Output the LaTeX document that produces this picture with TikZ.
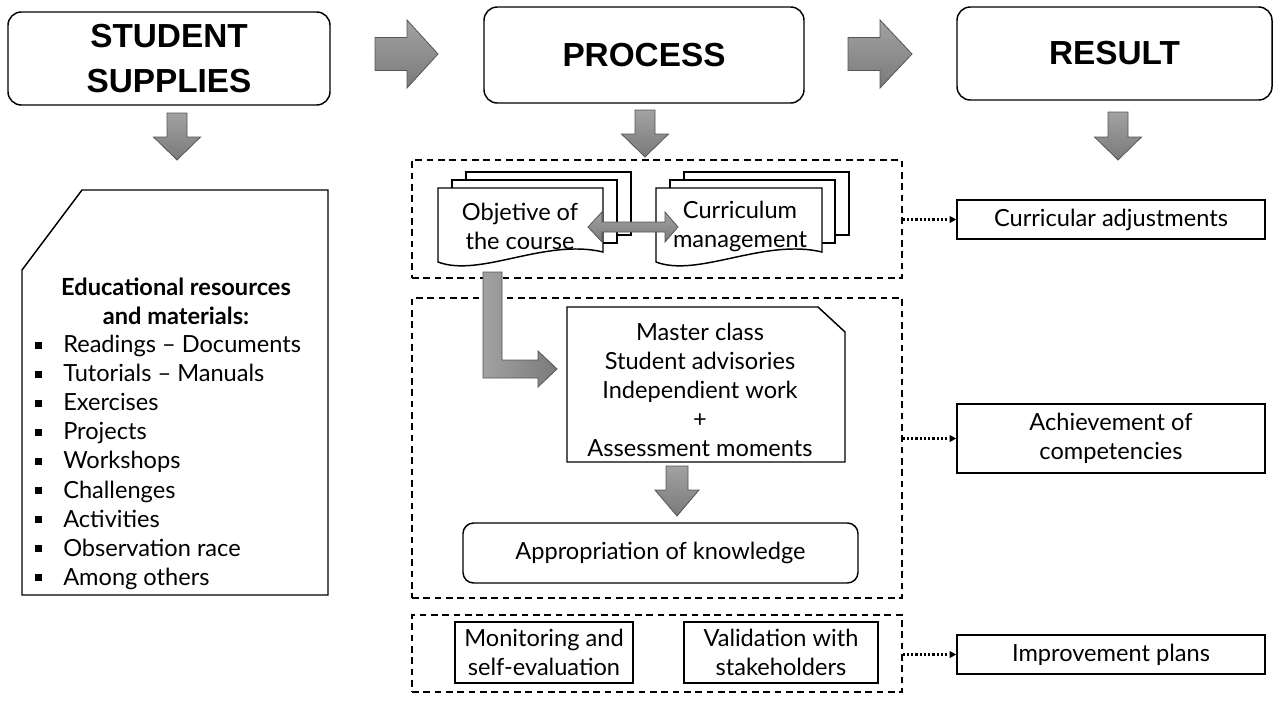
\documentclass[tikz,border=0pt]{standalone}
\usepackage{fontspec}
\setmainfont{Lato}
\newfontfamily\headfont{Liberation Sans}
\usetikzlibrary{arrows.meta}
\definecolor{arrtop}{HTML}{A2A2A2}
\definecolor{arrbot}{HTML}{7A7A7A}
\definecolor{arrline}{HTML}{555555}
\newcommand\bodyfont{\fontsize{17.7}{21.8}\selectfont}
\newcommand\rightblock[6]{% xleft, xhead, xtip, yc, shaft half, head half
  \draw[blockarrow] (#1,{#4-#5}) -- (#2,{#4-#5}) -- (#2,{#4-#6}) -- (#3,#4) -- (#2,{#4+#6}) -- (#2,{#4+#5}) -- (#1,{#4+#5}) -- cycle;}
\newcommand\downblock[6]{% ytop, yhead, ytip, xc, shaft half, head half
  \draw[blockarrow] ({#4-#5},#1) -- ({#4-#5},#2) -- ({#4-#6},#2) -- (#4,#3) -- ({#4+#6},#2) -- ({#4+#5},#2) -- ({#4+#5},#1) -- cycle;}
\tikzset{
  blockarrow/.style={draw=arrline, line width=0.6pt, top color=arrtop, bottom color=arrbot, line join=miter},
  headbox/.style={draw, line width=1.1pt, rounded corners=10pt, align=center, inner sep=0pt,
    font=\headfont\bfseries\fontsize{25}{33.75}\selectfont},
  plainbox/.style={draw, line width=1.1pt, align=center, inner sep=0pt, font=\bodyfont},
  dashbox/.style={draw, line width=0.9pt, dash pattern=on 5pt off 3.5pt, inner sep=0pt},
  dotarrow/.style={line width=1.6pt, dash pattern=on 1.6pt off 1.6pt, -{Triangle[length=5pt,width=5pt]}},
  txt/.style={font=\bodyfont, align=center, inner sep=0pt},
  item/.style={font=\bodyfont, anchor=base west, inner sep=0pt},
}
\begin{document}
\begin{tikzpicture}[x=0.75pt,y=-0.75pt]
\fill[white] (0,0) rectangle (1277,700);
\useasboundingbox (0,0) rectangle (1277,700);

% headings
\node[headbox, minimum width=241.5pt, minimum height=69.75pt] (s1) at (169,58.5) {STUDENT\\SUPPLIES};
\node[headbox, minimum width=240pt, minimum height=72pt] (p1) at (644,55) {PROCESS};
\node[headbox, minimum width=236.25pt, minimum height=69.75pt] (r1) at (1114.5,53.5) {RESULT};

% block arrows
\rightblock{375}{407}{438}{54}{16.5}{34}
\rightblock{848}{880}{912}{54}{16.5}{34}
\downblock{113}{137}{160}{177}{10}{23.5}
\downblock{110}{134}{157}{645}{10}{23.5}
\downblock{112}{137}{160}{1118}{10}{23.5}

% left resources box
\draw[line width=1.1pt, line join=miter] (82,190) -- (328,190) -- (328,595) -- (22,595) -- (22,270) -- cycle;
\node[txt, font=\bodyfont\bfseries] (edu) at (176,301) {Educational resources\\and materials:};
\foreach \t [count=\i] in {Readings -- Documents, Tutorials -- Manuals, Exercises, Projects, Workshops, Challenges, Activities, Observation race, Among others}{
  \pgfmathsetmacro\yy{345+29.1*(\i-1)}
  \fill (35,{\yy-3.5}) rectangle (42,{\yy+3.5});
  \node[item] (it\i) at (63,{\yy+7.5}) {\t};
}

% dashed groups
\node[dashbox, minimum width=367.5pt, minimum height=88.5pt] (d1) at (657,219) {};
\node[dashbox, minimum width=367.5pt, minimum height=225pt] (d2) at (657,448) {};
\node[dashbox, minimum width=367.5pt, minimum height=57.75pt] (d3) at (657,653.5) {};

% multi-documents
\draw[line width=1.1pt, fill=white] (466,172) rectangle (631,235);
\draw[line width=1.1pt, fill=white] (452,180) rectangle (617,243);
\draw[line width=1.1pt, fill=white, line join=miter] (438,262) -- (438,188) -- (603,188) -- (603,252) .. controls (545,238) and (480,278) .. (438,262) -- cycle;
\node[txt] (obj) at (520,226) {Objetive of\\the course};
\draw[line width=1.1pt, fill=white] (684,172) rectangle (849,235);
\draw[line width=1.1pt, fill=white] (670,180) rectangle (835,243);
\draw[line width=1.1pt, fill=white, line join=miter] (656,262) -- (656,188) -- (822,188) -- (822,252) .. controls (764,238) and (698,278) .. (656,262) -- cycle;
\node[txt] (cur) at (740,226) {Curriculum\\management};
% double arrow
\draw[blockarrow] (588,227) -- (602,212) -- (602,222) -- (665,222) -- (665,212) -- (678,227) -- (665,242) -- (665,232) -- (602,232) -- (602,242) -- cycle;

% L arrow
\draw[blockarrow, left color=arrtop, right color=arrbot] (483,272) -- (502,272) -- (502,360) -- (538,360) -- (538,351) -- (557,369) -- (538,387) -- (538,378) -- (483,378) -- cycle;

% master class box
\draw[line width=1.1pt, line join=miter] (567,307) -- (818,307) -- (845,332) -- (845,462) -- (567,462) -- cycle;
\node[txt] (mc) at (700,390) {Master class\\Student advisories\\Independient work\\+\\Assessment moments};

\downblock{466}{490}{516}{677}{11}{22}

\node[plainbox, rounded corners=8pt, minimum width=296.25pt, minimum height=45pt] (ap) at (660.5,553) {Appropriation of knowledge};

\node[plainbox, minimum width=133.5pt, minimum height=45.75pt] (mon) at (544,652.5) {Monitoring and\\self-evaluation};
\node[plainbox, minimum width=145.5pt, minimum height=45.75pt] (val) at (781,652.5) {Validation with\\stakeholders};

% results
\node[plainbox, minimum width=231pt, minimum height=29.25pt] (ca) at (1111,219.5) {Curricular adjustments};
\node[plainbox, minimum width=231pt, minimum height=51.75pt] (ac) at (1111,438.5) {Achievement of\\competencies};
\node[plainbox, minimum width=231pt, minimum height=29.25pt] (ip) at (1111,654.5) {Improvement plans};

\draw[dotarrow] (d1.east |- ca.west) -- (ca.west);
\draw[dotarrow] (d2.east |- ac.west) -- (ac.west);
\draw[dotarrow] (d3.east |- ip.west) -- (ip.west);
\end{tikzpicture}
\end{document}
